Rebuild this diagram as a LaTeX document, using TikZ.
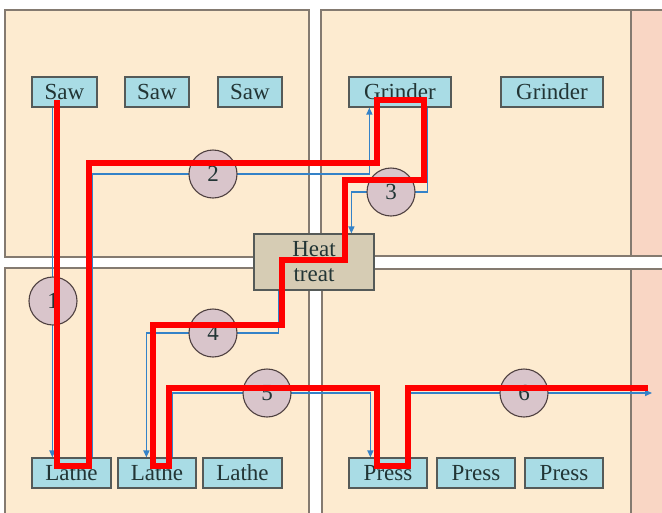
\documentclass[tikz,border=0pt]{standalone}
\usepackage{fontspec}
\setmainfont{Liberation Serif}
\usetikzlibrary{arrows.meta,calc}
\definecolor{roombg}{HTML}{FDEBD0}
\definecolor{roomedge}{HTML}{847A70}
\definecolor{salmon}{HTML}{F9D6C4}
\definecolor{mfill}{HTML}{A9DCE5}
\definecolor{medge}{HTML}{555A58}
\definecolor{heatfill}{HTML}{D6CCB4}
\definecolor{circfill}{HTML}{D9C5CB}
\definecolor{circedge}{HTML}{4E4040}
\definecolor{flowblue}{HTML}{3482C8}
\definecolor{txt}{HTML}{223535}
\pgfdeclarelayer{bg}
\pgfdeclarelayer{flows}
\pgfdeclarelayer{top}
\pgfsetlayers{bg,flows,main,top}
\begin{document}
\begin{tikzpicture}[x=1pt,y=-1pt,
  room/.style={draw=roomedge,fill=roombg,line width=1.2pt},
  strip/.style={draw=roomedge,fill=salmon,line width=1.2pt},
  machine/.style={draw=medge,fill=mfill,line width=1.2pt,inner sep=0pt,
    minimum height=30pt,text=txt,font=\fontsize{23}{25}\selectfont},
  heatbox/.style={draw=medge,fill=heatfill,line width=1.2pt,inner sep=0pt,
    minimum width=120pt,minimum height=56pt,align=center,text=txt,
    font=\fontsize{23}{25}\selectfont},
  station/.style={circle,draw=circedge,fill=circfill,line width=1.1pt,
    minimum size=48pt,inner sep=0pt,text=txt,font=\fontsize{23}{25}\selectfont},
  flow/.style={draw=flowblue,line width=1.5pt,-{Triangle[length=7pt,width=6pt]}},
  redline/.style={draw=red,line width=6.5pt,line join=miter}]
\useasboundingbox (0,0) rectangle (662,512);
\clip (0,0) rectangle (662,512);
\begin{pgfonlayer}{bg}
  \fill[white] (0,0) rectangle (662,512);
  \path[room] (5,10) rectangle (309,257);
  \path[room] (321,10) rectangle (631,256);
  \path[room] (5,268) rectangle (309,530);
  \path[room] (322,269) rectangle (631,530);
  \path[strip] (631,10) rectangle (680,256);
  \path[strip] (631,269) rectangle (680,530);
\end{pgfonlayer}

% machines
\node[machine,minimum width=65pt] (saw1) at (64.5,92) {Saw};
\node[machine,minimum width=64pt] (saw2) at (157,92) {Saw};
\node[machine,minimum width=64pt] (saw3) at (250,92) {Saw};
\node[machine,minimum width=102pt] (grinder1) at (400,92) {Grinder};
\node[machine,minimum width=102pt] (grinder2) at (552,92) {Grinder};
\node[machine,minimum width=79pt] (lathe1) at (71.5,473) {Lathe};
\node[machine,minimum width=78pt] (lathe2) at (157,473) {Lathe};
\node[machine,minimum width=79pt] (lathe3) at (242.5,473) {Lathe};
\node[machine,minimum width=78pt] (press1) at (388,473) {Press};
\node[machine,minimum width=78pt] (press2) at (476,473) {Press};
\node[machine,minimum width=78pt] (press3) at (564,473) {Press};
\node[heatbox] (heat) at (314,262) {Heat\\treat};

% stations
\node[station] (c1) at (53,301) {1};
\node[station] (c2) at (213,174) {2};
\node[station] (c3) at (391,192) {3};
\node[station] (c4) at (213,333) {4};
\node[station] (c5) at (267,393) {5};
\node[station] (c6) at (524,393) {6};
\coordinate (exit) at (652,393);

\begin{pgfonlayer}{flows}
  \draw[flow] ([xshift=21pt]saw1.south west) -- ([xshift=21pt]lathe1.north west);
  \draw[flow] ([xshift=61pt]lathe1.north west) |- (c2.center) -| ([xshift=21pt]grinder1.south west);
  \draw[flow] ([xshift=79pt]grinder1.south west) |- (c3.center) -| ([xshift=98pt]heat.north west);
  \draw[flow] ([xshift=25pt]heat.south west) |- (c4.center) -| ([xshift=29pt]lathe2.north west);
  \draw[flow] ([xshift=55pt]lathe2.north west) |- (c5.center) -| ([xshift=22pt]press1.north west);
  \draw[flow] ([xshift=57pt]press1.north west) |- (exit);
\end{pgfonlayer}

\begin{pgfonlayer}{top}
  \draw[redline] (57,100) -- (57,466) -- (89,466) -- (89,163) -- (377,163)
    -- (377,100) -- (424,100) -- (424,180) -- (345,180) -- (345,260)
    -- (282,260) -- (282,325) -- (153,325) -- (153,466) -- (169,466)
    -- (169,388) -- (377,388) -- (377,466) -- (408,466) -- (408,388)
    -- (648,388);
\end{pgfonlayer}
\end{tikzpicture}
\end{document}
